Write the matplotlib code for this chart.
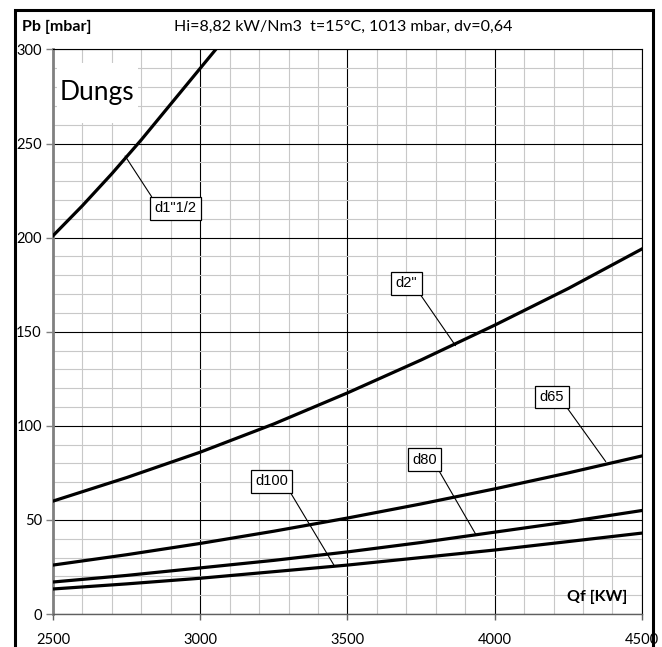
import matplotlib
matplotlib.use("Agg")
import matplotlib.pyplot as plt
from matplotlib.patches import Rectangle
from matplotlib.ticker import MultipleLocator

plt.rcParams['font.family'] = ['Lato', 'DejaVu Sans']

# gas flow Qf [kW]
qf = [2500, 2750, 3000, 3250, 3500, 3750, 4000, 4250, 4500]
qf_d112 = [2500, 2600, 2700, 2800, 2900, 3000, 3100]

# pressure drop Pb [mbar]
pb_d112 = [201, 217, 234, 252, 271, 290, 309]
pb_d2 = [60, 72.5, 86, 101, 117.5, 135, 153.5, 173, 194]
pb_d65 = [26, 31.5, 37.5, 44, 51, 58.5, 66.5, 75, 84]
pb_d80 = [17, 20.5, 24.5, 28.5, 33, 38, 43.5, 49, 55]
pb_d100 = [13.3, 16, 19, 22.5, 26, 30, 34, 38.5, 43]

labels = ['d1"1/2', 'd2"', 'd65', 'd80', 'd100']

fig = plt.figure(figsize=(6.62, 6.47), dpi=100)
ax = fig.add_axes([0.080, 0.051, 0.8897, 0.8725])

ax.plot(qf_d112, pb_d112, color='black', lw=2.3, zorder=3)
ax.plot(qf, pb_d2, color='black', lw=2.3, zorder=3)
ax.plot(qf, pb_d65, color='black', lw=2.3, zorder=3)
ax.plot(qf, pb_d80, color='black', lw=2.3, zorder=3)
ax.plot(qf, pb_d100, color='black', lw=2.3, zorder=3)

ax.set_xlim(2500, 4500)
ax.set_ylim(0, 300)
ax.xaxis.set_major_locator(MultipleLocator(500))
ax.xaxis.set_minor_locator(MultipleLocator(100))
ax.yaxis.set_major_locator(MultipleLocator(50))
ax.yaxis.set_minor_locator(MultipleLocator(10))
ax.grid(which='minor', color='#c8c8c8', lw=0.8)
ax.grid(which='major', color='black', lw=0.8)
ax.set_axisbelow(True)

for s in ['top', 'right']:
    ax.spines[s].set_color('black')
    ax.spines[s].set_linewidth(0.8)
ax.spines['left'].set_color('#808080')
ax.spines['left'].set_linewidth(2)
ax.spines['bottom'].set_color('#606060')
ax.spines['bottom'].set_linewidth(1)

ax.tick_params(which='minor', length=0)
ax.tick_params(axis='y', which='major', length=5, color='#808080', width=1,
               pad=3, labelsize=10.5)
ax.tick_params(axis='x', which='major', length=4, color='#606060', width=1,
               pad=10, labelsize=10.5)

# box labels with leader lines
box = dict(boxstyle='square,pad=0.3', fc='white', ec='black', lw=0.9)
arrow = dict(arrowstyle='-', color='black', lw=0.8, shrinkA=0, shrinkB=0)
lab_font = dict(fontsize=10.5, family=['Liberation Sans', 'DejaVu Sans'])
ax.annotate(labels[0], xy=(2745, 243.4), xytext=(2917, 215.5), ha='center', va='center',
            bbox=box, arrowprops=dict(arrow, relpos=(0, 1)), zorder=5, **lab_font)
ax.annotate(labels[1], xy=(3867, 142.6), xytext=(3701, 175.7), ha='center', va='center',
            bbox=box, arrowprops=dict(arrow, relpos=(1, 0)), zorder=5, **lab_font)
ax.annotate(labels[2], xy=(4377, 81), xytext=(4195, 115.3), ha='center', va='center',
            bbox=box, arrowprops=dict(arrow, relpos=(1, 0)), zorder=5, **lab_font)
ax.annotate(labels[3], xy=(3937, 42), xytext=(3761, 82), ha='center', va='center',
            bbox=box, arrowprops=dict(arrow, relpos=(1, 0)), zorder=5, **lab_font)
ax.annotate(labels[4], xy=(3454, 26), xytext=(3242, 70.5), ha='center', va='center',
            bbox=box, arrowprops=dict(arrow, relpos=(1, 0)), zorder=5, **lab_font)

# "Dungs" white patch
ax.add_patch(Rectangle((0.0068, 0.8698), 0.1375, 0.1062, transform=ax.transAxes,
                       fc='white', ec='none', zorder=2))
ax.text(0.0755, 0.923, 'Dungs', transform=ax.transAxes, ha='center', va='center',
        fontsize=19, zorder=4)

ax.text(4450, 9, 'Qf [KW]', ha='right', va='center', fontsize=11.5,
        fontweight='bold', zorder=4)

fig.text(0.0332, 0.958, 'Pb [mbar]', ha='left', va='center', fontsize=11.5,
         fontweight='bold')
fig.text(0.518, 0.959, 'Hi=8,82 kW/Nm3  t=15°C, 1013 mbar, dv=0,64', ha='center',
         va='center', fontsize=11.5)

# outer frame
fig.add_artist(Rectangle((0.0227, -0.02), 0.9637, 1.0045, transform=fig.transFigure,
                         fill=False, ec='black', lw=2.2, zorder=10))

fig.savefig('out.png', dpi=100)
